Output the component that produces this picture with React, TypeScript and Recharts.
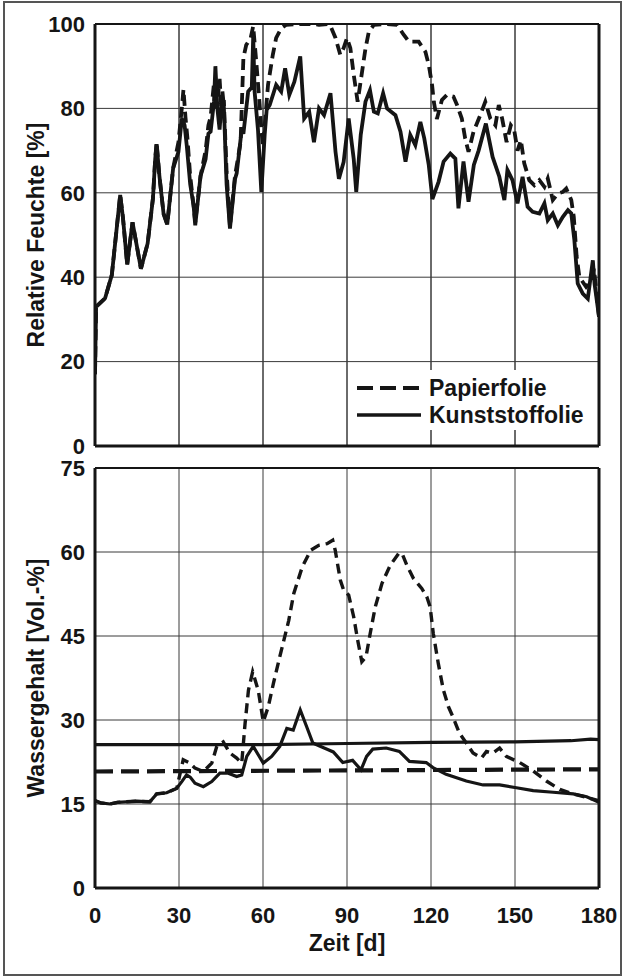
import React from 'react';
import { LineChart, Line, XAxis, YAxis, CartesianGrid, ReferenceLine } from 'recharts';

// ---- data ----
const xTicks = [0, 30, 60, 90, 120, 150, 180];
const rhTicks = [0, 20, 40, 60, 80, 100];
const wgTicks = [0, 15, 30, 45, 60, 75];

// Relative Feuchte – Kunststoffolie [day, %]
const rhKunst: [number, number][] = [
  [0, 17], [0.4, 33], [1.2, 33.5], [3.6, 35], [6, 40.5], [7.5, 50], [9, 59.5], [10, 54], [11.5, 43], [13.4, 53],
  [14.5, 49], [16.4, 42], [18.8, 48], [20.7, 58.7], [21.5, 68], [22, 71.5], [23, 64], [24.5, 55], [25.8, 52.5],
  [27.9, 65.8], [29.8, 69.7], [31, 77.6], [32, 76], [32.8, 71], [34, 62], [35.2, 57], [35.8, 52.3], [37.7, 64],
  [39.5, 68], [40.5, 74], [41.3, 74.5], [42.5, 81.6], [43, 90], [43.7, 80], [44.5, 75], [45.5, 84], [46, 80.8],
  [47, 62], [48.2, 51.5], [50, 63.3], [50.6, 64.6], [52.4, 75], [53, 74], [54.7, 84], [56, 85], [56.5, 97],
  [57, 84], [58.2, 75], [59.4, 60.2], [60.6, 73.7], [61.3, 79.6], [62.4, 80.8], [64.7, 85.6], [66.5, 84],
  [67.9, 89.5], [69.4, 83.2], [71.2, 86.3], [73.3, 92.3], [74.7, 77.6], [76.5, 79.2], [78.2, 72], [80, 80],
  [81.8, 78.4], [84.1, 83.6], [85.9, 69.7], [87.1, 63.3], [88.8, 67.3], [90.6, 77.6], [92.4, 68], [93.3, 60.2],
  [94.9, 73.7], [96.6, 81.6], [98.2, 84.3], [99.6, 79.2], [101, 78.8], [102.9, 83.6], [104.3, 80], [107.3, 78.4],
  [109.1, 74.5], [110.9, 67.4], [112.6, 73.7], [114.4, 71.3], [116.2, 76.8], [117.6, 72.9], [119.2, 66.6],
  [120.5, 58.5], [122.7, 62.6], [124.5, 67.4], [126.9, 69.3], [128.7, 68.1], [129.8, 56.3], [131.6, 67.4],
  [133.4, 57.9], [135.3, 66.6], [137, 70], [139.6, 76.4], [142, 68.5], [144.4, 63.8], [146.2, 58.3], [147.3, 65.4],
  [149.1, 63], [150.9, 57.5], [152.7, 63.8], [154.5, 56.7], [156.3, 55.5], [158.7, 55.1], [160.5, 57.5],
  [161.7, 53.5], [163.5, 55.1], [165.3, 52.3], [167.1, 54.3], [168.9, 55.9], [170.1, 55.1], [171.2, 48.8],
  [172.4, 38.5], [174.2, 36.1], [176, 34.9], [177.8, 44], [178.4, 38.5], [180, 30.6],
];

// Relative Feuchte – Papierfolie [day, %]
const rhPapier: [number, number][] = [
  [0, 17], [0.4, 33], [1.2, 33.5], [3.6, 35], [6, 40.5], [7.5, 50], [9, 59.5], [10, 54], [11.5, 43], [13.4, 53],
  [14.5, 49], [16.4, 42], [18.8, 48], [20.7, 58.7], [21.5, 68], [22, 72], [23, 64], [24.5, 55], [25.8, 52.5],
  [27.9, 65.8], [29.8, 72], [31, 80], [31.6, 84.5], [32.3, 78], [33, 73], [34, 64], [35.2, 57], [35.8, 53],
  [37.7, 64], [39.5, 70], [40.5, 76], [41.3, 78], [42.5, 86], [43.5, 80], [44.5, 87], [45.3, 78], [46, 82],
  [47, 65], [48.2, 52], [50, 64], [52, 72], [53, 92], [54, 95], [55.6, 96.7], [56.5, 99.5], [57.6, 91],
  [58.8, 81], [59.4, 75], [60, 71], [61.8, 85.6], [63.5, 92.7], [64.7, 96.7], [66.5, 99], [68.2, 99.8], [72, 100],
  [78, 100], [80, 99.8], [83, 100], [84.1, 99.5], [85.9, 96.7], [87.6, 92.7], [88.8, 94.3], [90, 96.7],
  [91.2, 94.3], [92.4, 88], [93.8, 81.6], [94.7, 85.6], [96.6, 94.2], [97.8, 98.2], [99.6, 99.8], [104, 100],
  [107.9, 99.8], [110.3, 97.4], [112.1, 95.8], [115.6, 95.8], [118, 93.4], [119.2, 90.3], [120.4, 85.5],
  [121, 81.6], [122.1, 77.5], [123.9, 82], [125.7, 83.2], [128, 82.8], [129.3, 80.8], [131, 77.6], [132.2, 72.9],
  [133.4, 69.7], [135.2, 74.5], [137.6, 78.4], [139.4, 81.6], [141.2, 77.6], [143, 76], [144.2, 80.8],
  [145.4, 77.6], [147, 72], [148.5, 76], [149.7, 74.9], [150.9, 70], [152.1, 72.5], [153.3, 67], [155.1, 63],
  [156.9, 61.8], [158.7, 63], [160.5, 61.4], [161.7, 63.4], [163.5, 58.3], [165.3, 59.8], [167.1, 60.2],
  [168.3, 61], [170.1, 58.3], [171, 54.3], [172, 45], [173, 40], [175.4, 37.7], [177.3, 39.3], [178.2, 42],
  [180, 30.6],
];

// Wassergehalt – Kunststoffolie [day, Vol.-%]
const wgKunst: [number, number][] = [
  [0, 15.6], [2, 15.2], [5.4, 15], [8, 15.3], [11.3, 15.4], [15, 15.5], [19.6, 15.4], [22, 16.8], [25.6, 17],
  [29.2, 17.8], [31, 19], [32.7, 20.2], [34, 19.8], [35.7, 18.7], [38.7, 18.1], [41.7, 19], [44.6, 20.5],
  [47.6, 20.5], [50.6, 19.9], [52.4, 20.2], [54.2, 23.5], [56.5, 25.3], [58.3, 23.8], [60.1, 22.3], [63.1, 23.5],
  [66, 25.3], [68.5, 28.5], [70.8, 28.2], [73.3, 31.8], [75.6, 28.8], [77.8, 25.9], [80.4, 25.3], [83.3, 24.7],
  [85.1, 24.3], [88.5, 22.4], [92, 22.8], [95, 21.1], [97, 23.5], [99.2, 24.8], [104, 25], [108.7, 24.4],
  [112.3, 22.6], [118.3, 22.4], [120.7, 21.5], [125.4, 20.3], [132.6, 19.1], [138.6, 18.4], [144.5, 18.4],
  [150.5, 17.9], [156.5, 17.4], [163.6, 17.1], [170.8, 16.8], [175.6, 16.3], [180, 15.3],
];

// Wassergehalt – Papierfolie [day, Vol.-%]
const wgPapier: [number, number][] = [
  [0, 15.6], [2, 15.2], [5.4, 15], [8, 15.3], [11.3, 15.4], [15, 15.5], [19.6, 15.4], [22, 16.8], [25.6, 17],
  [29.2, 17.8], [31.5, 22.9], [33.9, 22.3], [35.7, 21.4], [38.7, 20.8], [41.7, 22.3], [43.5, 25.3], [45.8, 26.1],
  [48.2, 24.1], [50.6, 23.2], [52.4, 22.3], [53.6, 29.4], [54.8, 35.3], [56.3, 38.6], [58.3, 35.3], [60.1, 29.7],
  [61.9, 32.4], [63.7, 36.5], [66, 41.3], [69.2, 47.8], [71, 52.6], [74, 57.3], [77, 60.3], [79.9, 61.2],
  [82.9, 61.5], [84.9, 62.1], [85.8, 60.3], [87.6, 55], [88.8, 53.2], [90.6, 52.3], [92.4, 48.4], [93.8, 44.3],
  [95.3, 40.4], [96.8, 41.3], [98.3, 45.5], [100.1, 50.2], [102.5, 54.4], [105.4, 57.6], [108.4, 59.7],
  [109.6, 59.8], [111.4, 57.6], [113.7, 55.3], [116.7, 53.5], [118.5, 52], [119.7, 50.2], [120.8, 45.5],
  [122.6, 40.1], [124.4, 35.4], [126.2, 32.4], [127.8, 30.6], [130.2, 27.6], [132.6, 25.9], [135, 24.1],
  [138, 23.2], [139.8, 24.4], [142.1, 24.1], [144.5, 25], [146.9, 23.5], [151.7, 22.4], [156.5, 20.9],
  [161.2, 19.1], [166, 17.6], [170.8, 16.8], [175.6, 16.2], [180, 15.6],
];

// Bezugslinien (nahezu waagerecht)
const refKunst: [number, number][] = [[0, 25.6], [60, 25.6], [90, 25.8], [120, 26], [150, 26.1], [170, 26.3], [177, 26.6], [180, 26.5]];
const refPapier: [number, number][] = [[0, 20.8], [90, 21], [180, 21.2]];

const toRows = (arr: [number, number][]) => arr.map(([d, v]) => ({ d, v }));

const FONT = '"Liberation Sans", Arial, Helvetica, sans-serif';
const INK = '#151515';
const GRID = '#3a3a3a';
const tickStyle = { fill: INK, fontSize: 22, fontWeight: 'bold' as const, fontFamily: FONT };

// vertical grid lines for the upper panel, placed through the x-axis scale
const gridX = (props: any) => {
  const xAxis = props?.xAxis;
  if (xAxis && typeof xAxis.scale === 'function') {
    return xTicks.map((t) => xAxis.scale(t));
  }
  const off = props?.offset ?? { left: 95, width: 504 };
  return xTicks.map((t) => off.left + (t / 180) * off.width);
};

export default function App() {
  return (
    <div style={{ position: 'absolute', left: 0, top: 0, width: 626, height: 978, background: '#fff' }}>
      {/* Upper panel */}
      <div style={{ position: 'absolute', left: 0, top: 0 }}>
        <LineChart width={626} height={460} margin={{ top: 24, right: 27, left: 0, bottom: 0 }}>
          <CartesianGrid stroke={GRID} strokeWidth={1} verticalCoordinatesGenerator={gridX} />
          <XAxis
            type="number"
            dataKey="d"
            domain={[0, 180]}
            ticks={xTicks}
            interval={0}
            tick={false}
            tickLine={false}
            height={14}
            axisLine={{ stroke: INK, strokeWidth: 3 }}
            allowDataOverflow
          />
          <YAxis
            type="number"
            domain={[0, 100]}
            ticks={rhTicks}
            interval={0}
            width={95}
            tickLine={false}
            tickSize={0}
            tickMargin={10}
            tick={tickStyle}
            axisLine={{ stroke: INK, strokeWidth: 3 }}
            allowDataOverflow
          />
          <ReferenceLine x={30} stroke={GRID} strokeWidth={1} />
          <ReferenceLine x={60} stroke={GRID} strokeWidth={1} />
          <ReferenceLine x={90} stroke={GRID} strokeWidth={1} />
          <ReferenceLine x={120} stroke={GRID} strokeWidth={1} />
          <ReferenceLine x={150} stroke={GRID} strokeWidth={1} />
          <ReferenceLine x={180} stroke={INK} strokeWidth={3} />
          <ReferenceLine y={100} stroke={INK} strokeWidth={2} />
          <Line data={toRows(rhKunst)} dataKey="v" stroke={INK} strokeWidth={3.8} dot={false} isAnimationActive={false} type="linear" />
          <Line data={toRows(rhPapier)} dataKey="v" stroke={INK} strokeWidth={3.8} strokeDasharray="11 6" dot={false} isAnimationActive={false} type="linear" />
        </LineChart>
      </div>

      {/* Lower panel */}
      <div style={{ position: 'absolute', left: 0, top: 450 }}>
        <LineChart width={626} height={528} margin={{ top: 18, right: 27, left: 0, bottom: 0 }}>
          <CartesianGrid stroke={GRID} strokeWidth={1} />
          <XAxis
            type="number"
            dataKey="d"
            domain={[0, 180]}
            ticks={xTicks}
            interval={0}
            height={90}
            tickLine={false}
            tickSize={0}
            tickMargin={19}
            tick={tickStyle}
            axisLine={{ stroke: INK, strokeWidth: 3 }}
            allowDataOverflow
          />
          <YAxis
            type="number"
            domain={[0, 75]}
            ticks={wgTicks}
            interval={0}
            width={95}
            tickLine={false}
            tickSize={0}
            tickMargin={10}
            tick={tickStyle}
            axisLine={{ stroke: INK, strokeWidth: 3 }}
            allowDataOverflow
          />
          <ReferenceLine x={180} stroke={INK} strokeWidth={3} />
          <ReferenceLine y={75} stroke={INK} strokeWidth={2} />
          <Line data={toRows(refKunst)} dataKey="v" stroke={INK} strokeWidth={3.2} dot={false} isAnimationActive={false} type="linear" />
          <Line data={toRows(refPapier)} dataKey="v" stroke={INK} strokeWidth={4.2} strokeDasharray="18 8" dot={false} isAnimationActive={false} type="linear" />
          <Line data={toRows(wgKunst)} dataKey="v" stroke={INK} strokeWidth={3.2} dot={false} isAnimationActive={false} type="linear" />
          <Line data={toRows(wgPapier)} dataKey="v" stroke={INK} strokeWidth={3.4} strokeDasharray="10 6" dot={false} isAnimationActive={false} type="linear" />
        </LineChart>
      </div>

      {/* Frame, axis titles, legend */}
      <svg width={626} height={978} style={{ position: 'absolute', left: 0, top: 0, pointerEvents: 'none' }}>
        <rect x={4} y={2} width={617} height={973} fill="none" stroke="#555" strokeWidth={2} />
        <text x={36} y={235} transform="rotate(-90 36 235)" textAnchor="middle" dominantBaseline="central"
          fontFamily={FONT} fontWeight="bold" fontSize={23} fill={INK}>Relative Feuchte [%]</text>
        <text x={36} y={678} transform="rotate(-90 36 678)" textAnchor="middle" dominantBaseline="central"
          fontFamily={FONT} fontWeight="bold" fontSize={23} fill={INK}>Wassergehalt [Vol.-%]</text>
        <text x={347} y={951} textAnchor="middle" fontFamily={FONT} fontWeight="bold" fontSize={23} fill={INK}>Zeit [d]</text>
        <rect x={352} y={370} width={244} height={60} fill="#fff" />
        <line x1={357} y1={388} x2={421} y2={388} stroke={INK} strokeWidth={4} strokeDasharray="16 7" />
        <text x={429} y={388} dominantBaseline="central" fontFamily={FONT} fontWeight="bold" fontSize={23} fill={INK}>Papierfolie</text>
        <line x1={357} y1={415} x2={421} y2={415} stroke={INK} strokeWidth={3.5} />
        <text x={429} y={415} dominantBaseline="central" fontFamily={FONT} fontWeight="bold" fontSize={23} fill={INK}>Kunststoffolie</text>
      </svg>
    </div>
  );
}
